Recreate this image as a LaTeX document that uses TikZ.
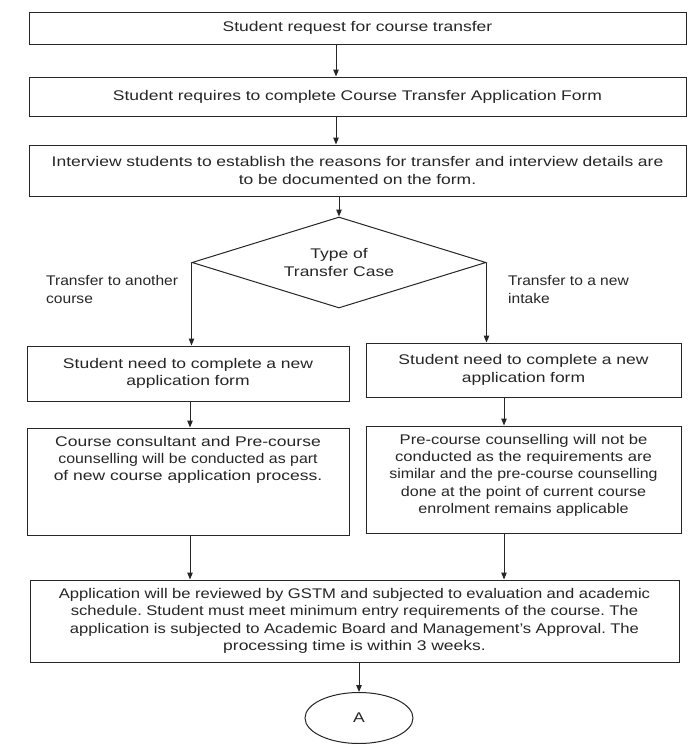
\documentclass[tikz,border=0pt]{standalone}
\usepackage{fontspec}
\usepackage{graphicx}
\setmainfont{Liberation Sans}[FakeStretch=1.25]
\newcommand\sqz[2]{\scalebox{#1}[1]{#2}}
\usetikzlibrary{arrows.meta,shapes.geometric,shadows}
\begin{document}
\frenchspacing
\begin{tikzpicture}[x=1pt,y=-1pt,
  font=\fontsize{14}{17.3}\selectfont,
  box/.style={draw=black!85, line width=1pt, fill=white, inner sep=0pt, align=center, text=black!85,
    drop shadow={shadow xshift=1.2pt, shadow yshift=-1.2pt, fill=black!45, opacity=1}},
  plain/.style={draw=black!85, line width=1pt, fill=white, inner sep=0pt, align=center, text=black!85},
  arr/.style={draw=black!85, line width=1pt, -{Triangle[length=7pt,width=5.5pt]}},
  lbl/.style={align=left, inner sep=0pt, anchor=west, text=black!85}]
\useasboundingbox (0,0) rectangle (688,744);

\node[box, minimum width=657pt, minimum height=32pt, text width=640pt] (b1) at (357.5,28)
  {Student request for course transfer};
\node[box, minimum width=657pt, minimum height=39pt, text width=640pt] (b2) at (357.5,96.5)
  {Student requires to complete Course Transfer Application Form};
\node[box, minimum width=657pt, minimum height=51pt, text width=640pt] (b3) at (357.5,170.5)
  {Interview students to establish the reasons for transfer and interview details are\\to be documented on the form.};

\node[plain, shape=diamond, aspect=3.2, minimum width=294pt, minimum height=91pt] (d) at (339,262.5)
  {Type of\\Transfer Case};

\node[lbl] (tl) at (46,289.5) {\sqz{0.89}{Transfer to another}\\\sqz{0.89}{course}};
\node[lbl] (tr) at (508,289.5) {\sqz{0.89}{Transfer to a new}\\\sqz{0.89}{intake}};

\node[box, minimum width=322pt, minimum height=55pt, text width=310pt] (l1) at (188,373.5)
  {Student need to complete a new\\application form};
\node[box, minimum width=315pt, minimum height=54pt, text width=305pt] (r1) at (523.5,370)
  {Student need to complete a new\\application form};

\node[box, minimum width=322pt, minimum height=107pt] (l2) at (188,481.5)
  {\parbox[c][91pt][t]{314pt}{\centering Course consultant and Pre-course\\\sqz{0.91}{counselling will be conducted as part}\\of new course application process.}};
\node[box, minimum width=315pt, minimum height=107pt] (r2) at (523.5,479.5)
  {\parbox[c][91pt][t]{307pt}{\centering \sqz{0.95}{Pre-course counselling will not be}\\\sqz{0.95}{conducted as the requirements are}\\\sqz{0.91}{similar and the pre-course counselling}\\\sqz{0.92}{done at the point of current course}\\\sqz{0.92}{enrolment remains applicable}}};

\node[box, minimum width=649pt, minimum height=82pt, text width=640pt] (f) at (354.5,621)
  {\sqz{0.95}{Application will be reviewed by GSTM and subjected to evaluation and academic}\\\sqz{0.95}{schedule. Student must meet minimum entry requirements of the course. The}\\\sqz{0.95}{application is subjected to Academic Board and Management's Approval. The}\\processing time is within 3 weeks.};

\node[plain, shape=ellipse, minimum width=108pt, minimum height=51pt] (a) at (359,718) {A};

\coordinate (cm) at (336,0);
\coordinate (cl) at (190,0);
\coordinate (cr) at (504,0);

\draw[arr] (b1.south -| cm) -- (b2.north -| cm);
\draw[arr] (b2.south -| cm) -- (b3.north -| cm);
\draw[arr] (b3.south -| d.north) -- (d.north);
\draw[arr] (d.west) -- (d.west |- l1.north);
\draw[arr] (d.east) -- (d.east |- r1.north);
\draw[arr] (l1.south -| cl) -- (l2.north -| cl);
\draw[arr] (r1.south -| cr) -- (r2.north -| cr);
\draw[arr] (l2.south -| cl) -- (f.north -| cl);
\draw[arr] (r2.south -| cr) -- (f.north -| cr);
\draw[arr] (f.south -| a.north) -- (a.north);
\end{tikzpicture}
\end{document}
